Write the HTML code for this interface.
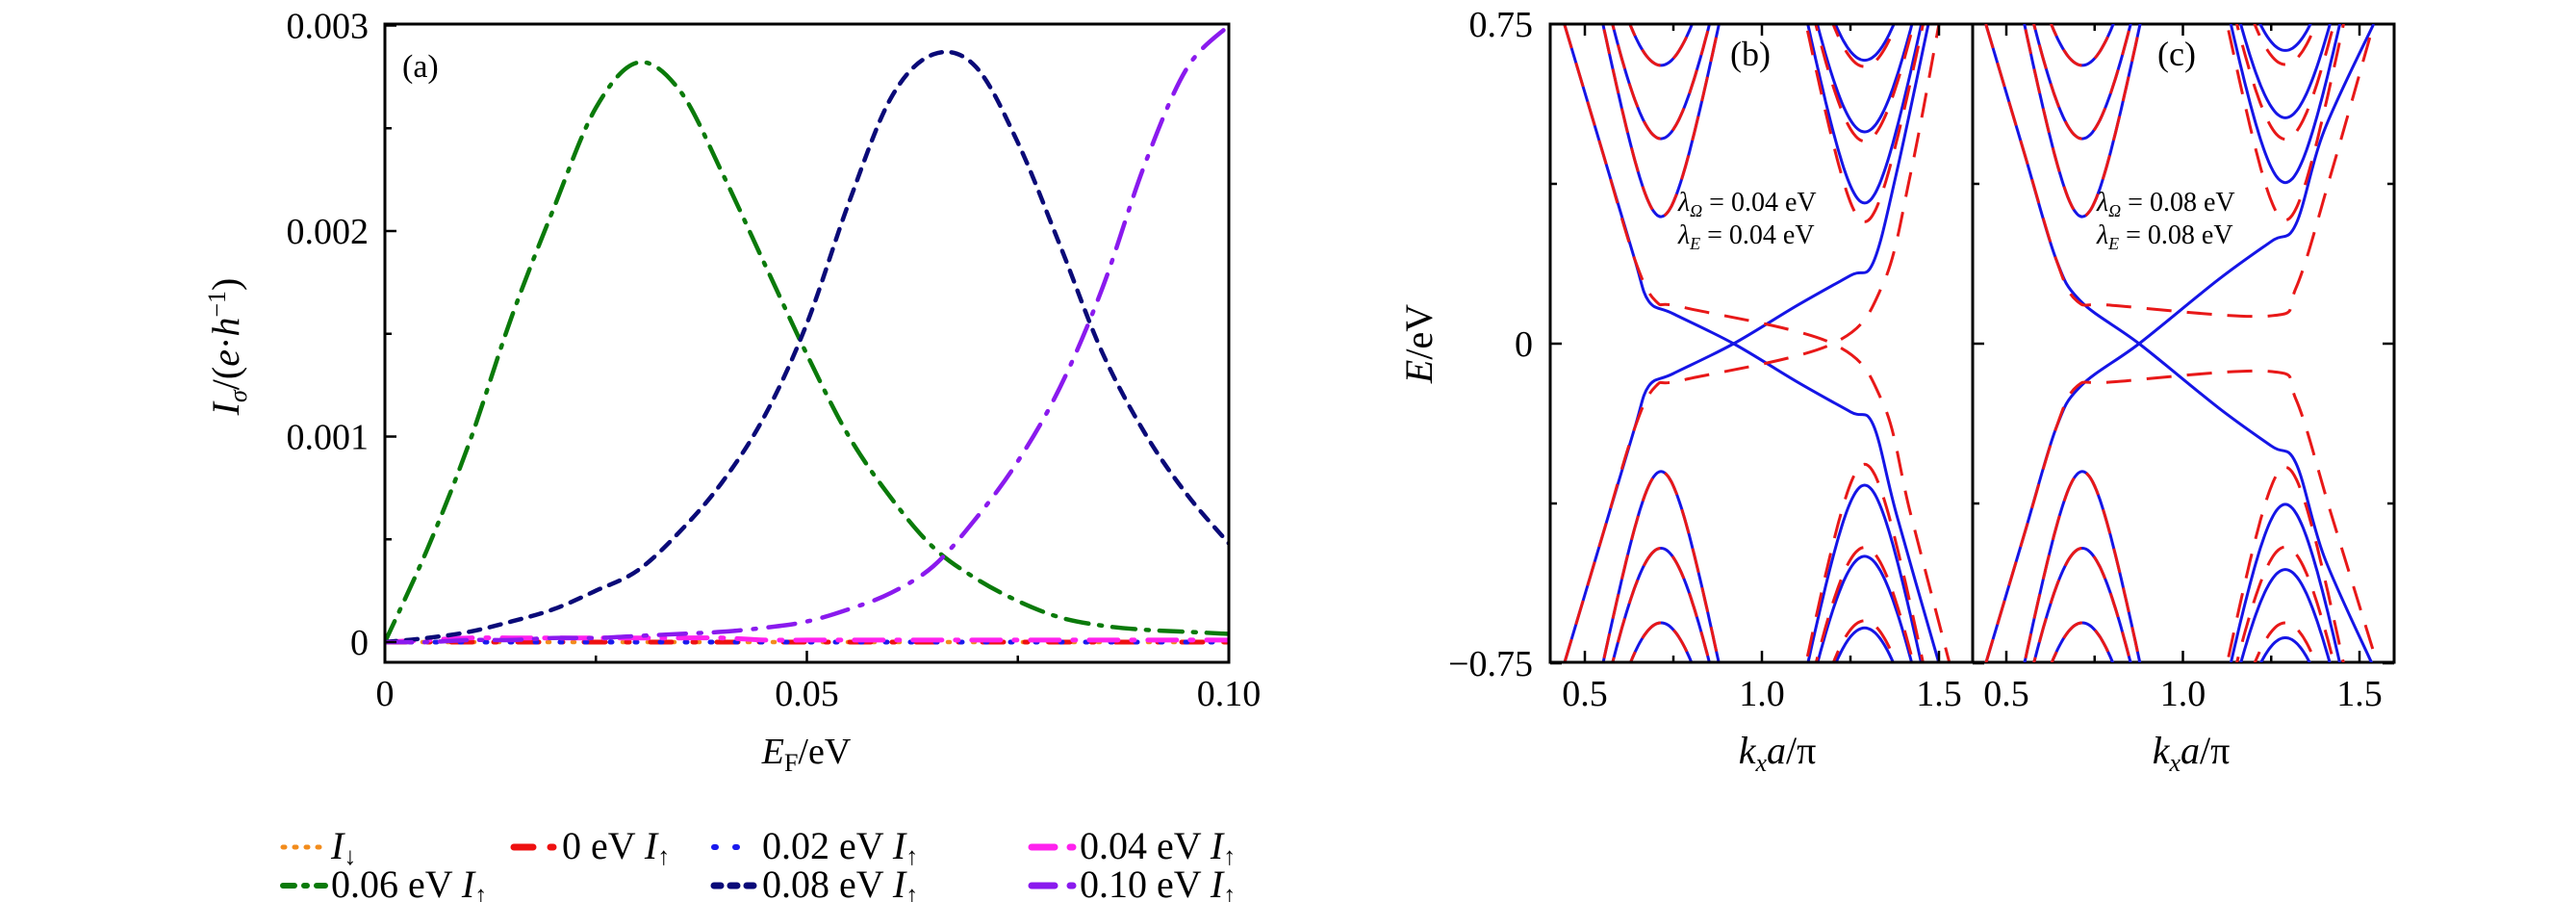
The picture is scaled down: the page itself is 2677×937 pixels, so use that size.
<!DOCTYPE html>
<html><head><meta charset="utf-8"><style>
html,body{margin:0;padding:0;background:#fff;overflow:hidden;}
svg{display:block;font-family:"Liberation Serif",serif;}
</style></head><body>
<svg id="fig" width="2677" height="937" viewBox="0 0 2677 937" xmlns="http://www.w3.org/2000/svg">
<defs>
<clipPath id="clipA"><rect x="400" y="25" width="877" height="663"/></clipPath>
<clipPath id="clipB"><rect x="1611" y="25" width="439" height="663"/></clipPath>
<clipPath id="clipC"><rect x="2050" y="25" width="438" height="663"/></clipPath>
</defs>
<g id="gA"></g>
<g id="gB"></g>
<g id="gC"></g>
<g id="legend"></g>
</svg>
<script>
// ---------- Panel (a) data ----------
const efGrid=[0,0.005,0.01,0.015,0.02,0.025,0.03,0.035,0.04,0.045,0.05,0.055,0.06,0.065,0.07,0.075,0.08,0.085,0.09,0.095,0.1];
const curDown=[0,0,0,0,0,0,0,0,0,0,0,0,0,0,0,0,0,0,0,0,0];
const cur000=[0,0,0,0,0,0,0,0,0,0,0,0,0,0,0,0,0,0,0,0,0];
const cur002=[0,0,0,0,0,0,0,0,0,0,0,0,0,0,0,0,0,0,0,0,0];
const cur004=[0,0.00001,0.00002,0.00002,0.00002,0.00002,0.00002,0.00002,0.00002,0.00001,0.00001,0.00001,0.00001,0.00001,0.00001,0.00001,0.00001,0.00001,0.00001,0.00001,0.00001];
const cur006=[0,0.00045,0.00097,0.00158,0.00211,0.0026,0.00282,0.00268,0.00228,0.00184,0.0014,0.001,0.0007,0.00046,0.00031,0.0002,0.00012,0.00008,0.00006,0.00005,0.00004];
const cur008=[0,0.00002,0.00005,0.0001,0.00016,0.00025,0.00035,0.00054,0.00078,0.0011,0.00155,0.00214,0.00265,0.00286,0.0028,0.00243,0.00193,0.00141,0.00102,0.00072,0.00048];
const cur010=[0,0,0.00001,0.00001,0.00002,0.00002,0.00003,0.00004,0.00005,0.00007,0.0001,0.00016,0.00024,0.00037,0.0006,0.00088,0.00124,0.00172,0.00232,0.00279,0.003];
const aXTicks=[0,0.05,0.1], aXLabels=["0","0.05","0.10"];
const aYTicks=[0,0.001,0.002,0.003], aYLabels=["0","0.001","0.002","0.003"];

// ---------- Panels (b),(c) data ----------
const kLeft=0.715, kRight=0.715+0.575, vF=4.2;
const leftCond=[0.653,0.481,0.298], leftVal=[-0.30,-0.48,-0.655];
const bBlueRightCond=[0.665,0.497,0.33], bBlueRightVal=[-0.332,-0.499,-0.667];
const bRedRightCond=[0.65,0.475,0.286], bRedRightVal=[-0.283,-0.478,-0.65];
const cBlueRightCond=[0.688,0.53,0.378], cBlueRightVal=[-0.377,-0.53,-0.69];
const cRedRightCond=[0.655,0.48,0.29], cRedRightVal=[-0.29,-0.477,-0.655];
const bBlueEdgeK=[0.442,0.55,0.64,0.68,0.75,0.92,1.1,1.25,1.314,1.38,1.50];
const bBlueEdgeE=[0.75,0.45,0.2,0.1,0.07,0,-0.09,-0.16,-0.19,-0.4,-0.75];
const bBlueEdge2K=[0.442,0.55,0.64,0.68,0.75,0.92,1.1,1.25,1.314,1.38,1.47];
const bBlueEdge2E=[-0.75,-0.45,-0.2,-0.1,-0.07,0,0.09,0.16,0.19,0.4,0.75];
const bRedEdgeK=[0.442,0.55,0.64,0.70,0.78,1.2,1.342,1.42,1.53];
const bRedEdgeE=[0.75,0.45,0.2,0.1,0.085,0,-0.14,-0.4,-0.75];
const bRedEdge2K=[0.442,0.55,0.64,0.70,0.78,1.2,1.342,1.42,1.50];
const bRedEdge2E=[-0.75,-0.45,-0.2,-0.1,-0.085,0,0.14,0.4,0.75];
const cBlueEdgeK=[0.442,0.55,0.64,0.71,0.876,1.1,1.25,1.32,1.40,1.535];
const cBlueEdgeE=[0.75,0.45,0.2,0.1,0,-0.15,-0.24,-0.28,-0.5,-0.75];
const cBlueEdge2K=[0.442,0.55,0.64,0.71,0.876,1.1,1.25,1.32,1.40,1.54];
const cBlueEdge2E=[-0.75,-0.45,-0.2,-0.1,0,0.15,0.24,0.28,0.5,0.75];
const cRedEdgeK=[0.442,0.55,0.64,0.70,0.80,1.244,1.32,1.42,1.54];
const cRedEdgeE=[0.75,0.45,0.2,0.1,0.09,0.065,0.13,0.4,0.75];
const cRedEdge2K=[0.442,0.55,0.64,0.70,0.80,1.244,1.32,1.42,1.55];
const cRedEdge2E=[-0.75,-0.45,-0.2,-0.1,-0.09,-0.065,-0.13,-0.4,-0.75];
const kTicks=[0.5,1.0,1.5], kLabels=["0.5","1.0","1.5"], kMinor=[0.75,1.25];
const eTicks=[-0.75,0,0.75], eLabels=["\u22120.75","0","0.75"], eMinor=[-0.375,0.375];

const NS="http://www.w3.org/2000/svg";
function mk(tag,attrs,parent){const e=document.createElementNS(NS,tag);for(const k in attrs)e.setAttribute(k,attrs[k]);parent.appendChild(e);return e;}

const xa=v=>400+v/0.1*877, ya=v=>667-v/0.001*213.5;
const xb=k=>1647+(k-0.5)*368, xc=k=>2085+(k-0.5)*367, yE=E=>357-E*442.7;

function smoothPath(pts){
  if(pts.length<2)return"";
  let d=`M${pts[0][0].toFixed(1)},${pts[0][1].toFixed(1)}`;
  for(let i=0;i<pts.length-1;i++){
    const p0=pts[i-1]||pts[i],p1=pts[i],p2=pts[i+1],p3=pts[i+2]||p2;
    const c1=[p1[0]+(p2[0]-p0[0])/6,p1[1]+(p2[1]-p0[1])/6];
    const c2=[p2[0]-(p3[0]-p1[0])/6,p2[1]-(p3[1]-p1[1])/6];
    d+=`C${c1[0].toFixed(1)},${c1[1].toFixed(1)} ${c2[0].toFixed(1)},${c2[1].toFixed(1)} ${p2[0].toFixed(1)},${p2[1].toFixed(1)}`;
  }
  return d;
}
function txt(parent,x,y,s,size,anchor,extra){const t=mk('text',Object.assign({x:x,y:y,'font-size':size,'text-anchor':anchor||'middle'},extra||{}),parent);t.innerHTML=s;return t;}

// ---------- Panel (a) ----------
const gA=document.getElementById('gA');
const seriesA=[
 {vals:curDown,color:'#f28c1c',dash:'2 11',w:4.5,name:'series-i-down'},
 {vals:cur000,color:'#ee1111',dash:'22 22 3 22',w:5,name:'series-0ev'},
 {vals:cur002,color:'#1a1aee',dash:'2 24',w:5,name:'series-002ev'},
 {vals:cur004,color:'#ff22ee',dash:'30 14 3 14',w:5,name:'series-004ev'},
 {vals:cur006,color:'#0a7a0a',dash:'24 11 3 11',w:4.5,name:'series-006ev'},
 {vals:cur008,color:'#0a0a78',dash:'12 10',w:4.5,name:'series-008ev'},
 {vals:cur010,color:'#8a1aee',dash:'28 13 3 13',w:4.5,name:'series-010ev'}
];
const gAc=mk('g',{'clip-path':'url(#clipA)'},gA);


seriesA.forEach(s=>{
  const pts=efGrid.map((e,i)=>[xa(e),ya(s.vals[i])]);
  const p=mk('path',{d:smoothPath(pts),fill:'none',stroke:s.color,'stroke-width':s.w,'stroke-dasharray':s.dash,'stroke-linecap':'round'},gAc);
  
  
});
const frameA=mk('rect',{x:400,y:25,width:877,height:663,fill:'none',stroke:'#000','stroke-width':3},gA);


aXTicks.forEach((v,i)=>{
  mk('line',{x1:xa(v),x2:xa(v),y1:688,y2:676,stroke:'#000','stroke-width':2.5},gA);
  const t=txt(gA,xa(v),733,aXLabels[i],38);
  
  
});
[0.025,0.075].forEach(v=>mk('line',{x1:xa(v),x2:xa(v),y1:688,y2:681,stroke:'#000','stroke-width':2.5},gA));
aYTicks.forEach((v,i)=>{
  mk('line',{x1:400,x2:412,y1:ya(v),y2:ya(v),stroke:'#000','stroke-width':2.5},gA);
  const t=txt(gA,383,ya(v)+13,aYLabels[i],38,'end');
  
  
});
[0.0005,0.0015,0.0025].forEach(v=>mk('line',{x1:400,x2:407,y1:ya(v),y2:ya(v),stroke:'#000','stroke-width':2.5},gA));
let t;
t=txt(gA,838,793,'<tspan font-style="italic">E</tspan><tspan font-size="26" dy="8">F</tspan><tspan dy="-8">/eV</tspan>',38);

t=txt(gA,0,0,'<tspan font-style="italic">I</tspan><tspan font-style="italic" font-size="26" dy="8">σ</tspan><tspan dy="-8">/(</tspan><tspan font-style="italic">e</tspan>·<tspan font-style="italic">h</tspan><tspan font-size="26" dy="-14">−1</tspan><tspan dy="14">)</tspan>',40,'middle',{transform:'translate(248,360) rotate(-90)'});

t=txt(gA,418,80,'(a)',34,'start');


// ---------- Panels (b),(c) ----------
function bandPts(xf,k0,gap,sign){
  const pts=[];
  for(let k=k0-0.3;k<=k0+0.3001;k+=0.01){const dk=k-k0;pts.push([xf(k),yE(sign*Math.sqrt(gap*gap+vF*vF*dk*dk))]);}
  return pts;
}
function drawBandPanel(g,clip,xf,blueRC,blueRV,redRC,redRV,be1K,be1E,be2K,be2E,re1K,re1E,re2K,re2E,tag){
  const gc=mk('g',{'clip-path':`url(#${clip})`},g);
  
  
  const blue={fill:'none',stroke:'#1515e6','stroke-width':3};
  const red={fill:'none',stroke:'#e81818','stroke-width':3,'stroke-dasharray':'26 16'};
  function add(d,st,name){const p=mk('path',Object.assign({d:d},st),gc);}
  leftCond.forEach(g0=>add(smoothPath(bandPts(xf,kLeft,g0,1)),blue,'blue-band-left-cond'));
  leftVal.forEach(g0=>add(smoothPath(bandPts(xf,kLeft,-g0,-1)),blue,'blue-band-left-val'));
  blueRC.forEach(g0=>add(smoothPath(bandPts(xf,kRight,g0,1)),blue,'blue-band-right-cond'));
  blueRV.forEach(g0=>add(smoothPath(bandPts(xf,kRight,-g0,-1)),blue,'blue-band-right-val'));
  add(smoothPath(be1K.map((k,i)=>[xf(k),yE(be1E[i])])),blue,'blue-edge-state');
  add(smoothPath(be2K.map((k,i)=>[xf(k),yE(be2E[i])])),blue,'blue-edge-state');
  leftCond.forEach(g0=>add(smoothPath(bandPts(xf,kLeft,g0,1)),red,'red-band-left-cond'));
  leftVal.forEach(g0=>add(smoothPath(bandPts(xf,kLeft,-g0,-1)),red,'red-band-left-val'));
  redRC.forEach(g0=>add(smoothPath(bandPts(xf,kRight,g0,1)),red,'red-band-right-cond'));
  redRV.forEach(g0=>add(smoothPath(bandPts(xf,kRight,-g0,-1)),red,'red-band-right-val'));
  add(smoothPath(re1K.map((k,i)=>[xf(k),yE(re1E[i])])),red,'red-edge-state');
  add(smoothPath(re2K.map((k,i)=>[xf(k),yE(re2E[i])])),red,'red-edge-state');
  kTicks.forEach((k,i)=>{
    mk('line',{x1:xf(k),x2:xf(k),y1:688,y2:676,stroke:'#000','stroke-width':2.5},g);
    mk('line',{x1:xf(k),x2:xf(k),y1:25,y2:37,stroke:'#000','stroke-width':2.5},g);
    const tt=txt(g,xf(k),733,kLabels[i],38);
    
  });
  kMinor.forEach(k=>{mk('line',{x1:xf(k),x2:xf(k),y1:688,y2:681,stroke:'#000','stroke-width':2.5},g);mk('line',{x1:xf(k),x2:xf(k),y1:25,y2:32,stroke:'#000','stroke-width':2.5},g);});
}
const gB=document.getElementById('gB'), gC=document.getElementById('gC');
drawBandPanel(gB,'clipB',xb,bBlueRightCond,bBlueRightVal,bRedRightCond,bRedRightVal,bBlueEdgeK,bBlueEdgeE,bBlueEdge2K,bBlueEdge2E,bRedEdgeK,bRedEdgeE,bRedEdge2K,bRedEdge2E,'b');
drawBandPanel(gC,'clipC',xc,cBlueRightCond,cBlueRightVal,cRedRightCond,cRedRightVal,cBlueEdgeK,cBlueEdgeE,cBlueEdge2K,cBlueEdge2E,cRedEdgeK,cRedEdgeE,cRedEdge2K,cRedEdge2E,'c');
eTicks.forEach((E,i)=>{
  [1611,2050].forEach(x0=>mk('line',{x1:x0,x2:x0+12,y1:yE(E),y2:yE(E),stroke:'#000','stroke-width':2.5},gB));
  mk('line',{x1:2488,x2:2476,y1:yE(E),y2:yE(E),stroke:'#000','stroke-width':2.5},gC);
  const tt=txt(gB,1593,yE(E)+13,eLabels[i],38,'end');
  
});
eMinor.forEach(E=>{[1611,2050].forEach(x0=>mk('line',{x1:x0,x2:x0+7,y1:yE(E),y2:yE(E),stroke:'#000','stroke-width':2.5},gB));mk('line',{x1:2488,x2:2481,y1:yE(E),y2:yE(E),stroke:'#000','stroke-width':2.5},gC);});
const fb=mk('rect',{x:1611,y:25,width:877,height:663,fill:'none',stroke:'#000','stroke-width':3},gB);

const dv=mk('line',{x1:2050,x2:2050,y1:25,y2:688,stroke:'#000','stroke-width':3},gB);

t=txt(gB,0,0,'<tspan font-style="italic">E</tspan>/eV',40,'middle',{transform:'translate(1488,357) rotate(-90)'});

[[1847,gB,'b'],[2277,gC,'c']].forEach(([x,g,tag])=>{
  const tt=txt(g,x,793,'<tspan font-style="italic">k</tspan><tspan font-style="italic" font-size="26" dy="8">x</tspan><tspan dy="-8" font-style="italic">a</tspan>/π',40);
  
});
t=txt(gB,1819,68,'(b)',36);
t=txt(gC,2262,68,'(c)',36);
[[1744,gB,'0.04','b'],[2179,gC,'0.08','c']].forEach(([x,g,v,tag])=>{
  let a=txt(g,x,219,`<tspan font-style="italic">λ</tspan><tspan font-style="italic" font-size="18" dy="6">Ω</tspan><tspan dy="-6"> = ${v} eV</tspan>`,28,'start');
  
  a=txt(g,x,253,`<tspan font-style="italic">λ</tspan><tspan font-style="italic" font-size="18" dy="6">E</tspan><tspan dy="-6"> = ${v} eV</tspan>`,28,'start');
  
});

// ---------- Legend ----------
const lg=document.getElementById('legend');
const legItems=[
 {x:294,y:892,color:'#f28c1c',dash:'2 10',w:5,lab:'I',sub:'↓',pre:''},
 {x:534,y:892,color:'#ee1111',dash:'20 18 3 18',w:7,lab:'I',sub:'↑',pre:'0 eV '},
 {x:742,y:892,color:'#1a1aee',dash:'2 20',w:6,lab:'I',sub:'↑',pre:'0.02 eV '},
 {x:1072,y:892,color:'#ff22ee',dash:'24 16 3 16',w:7,lab:'I',sub:'↑',pre:'0.04 eV '},
 {x:294,y:932,color:'#0a7a0a',dash:'12 10 3 10',w:6,lab:'I',sub:'↑',pre:'0.06 eV '},
 {x:742,y:932,color:'#0a0a78',dash:'7 10',w:7,lab:'I',sub:'↑',pre:'0.08 eV '},
 {x:1072,y:932,color:'#8a1aee',dash:'24 16 3 16',w:7,lab:'I',sub:'↑',pre:'0.10 eV '}
];
legItems.forEach(it=>{
  const g=mk('g',{},lg);
  
  
  mk('line',{x1:it.x,x2:it.x+44,y1:it.y-12,y2:it.y-12,stroke:it.color,'stroke-width':it.w,'stroke-dasharray':it.dash,'stroke-linecap':'round'},g);
  txt(g,it.x+50,it.y,`${it.pre}<tspan font-style="italic">${it.lab}</tspan><tspan font-size="26" dy="6">${it.sub}</tspan>`,40,'start');
});
</script>
</body></html>
